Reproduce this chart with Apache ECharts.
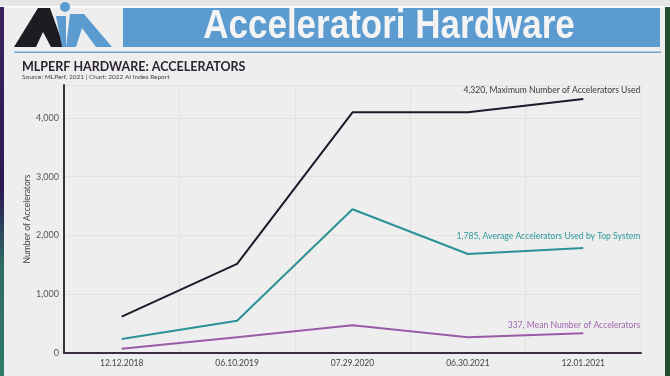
<!DOCTYPE html>
<html>
<head>
<meta charset="utf-8">
<title>MLPerf Hardware: Accelerators</title>
<script src="https://cdn.jsdelivr.net/npm/echarts@6/dist/echarts.min.js"></script>
<style>
  html, body { margin: 0; padding: 0; background: #eeeeee; }
  #main { width: 670px; height: 376px; }
</style>
</head>
<body>
<div id="main"></div>
<script type="text/javascript">
// dates of the MLPerf rounds
var dates = ['12.12.2018', '06.10.2019', '07.29.2020', '06.30.2021', '12.01.2021'];
// values
var maxAccel = [618, 1515, 4096, 4096, 4320];
var avgTopSystem = [238, 550, 2446, 1685, 1785];
var meanAccel = [73, 267, 471, 267, 337];
var yTicks = [0, 1000, 2000, 3000, 4000];

var black = '#21172a', teal = '#2b9196', purple = '#9a5aa6';

// put a label only on the last point of each line
function withEndLabel(arr, text, color, dy) {
    return arr.map(function (v, i) {
        if (i < arr.length - 1) return v;
        return {
            value: v,
            label: {
                show: true, position: 'top', align: 'right', offset: [57, dy], distance: 5,
                formatter: text, color: color, fontSize: 8.6, fontFamily: 'Lato'
            }
        };
    });
}

var myChart = echarts.init(document.getElementById('main'));
var option = {
    backgroundColor: '#eeeeee',
    animation: false,
    title: {
        text: 'MLPERF HARDWARE: ACCELERATORS',
        subtext: 'Source: MLPerf, 2021 | Chart: 2022 AI Index Report',
        left: 17, top: 55, itemGap: 0,
        textStyle: { fontSize: 12.5, fontWeight: 'bold', color: '#2b2330', fontFamily: 'Lato' },
        subtextStyle: { fontSize: 6.5, color: '#444', fontFamily: 'Lato' }
    },
    graphic: [
        // frame of the slide
        { type: 'rect', shape: { x: 0, y: 0, width: 670, height: 6 }, style: { fill: '#e6e6e6' } },
        { type: 'rect', shape: { x: 0, y: 6, width: 670, height: 1.5 }, style: { fill: '#ffffff' } },
        { type: 'rect', shape: { x: 0, y: 7, width: 4, height: 369 },
          style: { fill: new echarts.graphic.LinearGradient(0, 0, 0, 1, [
              { offset: 0, color: '#3d2160' }, { offset: 0.5, color: '#2a1a55' },
              { offset: 0.7, color: '#2f6d63' }, { offset: 1, color: '#2f7a66' }]) } },
        { type: 'rect', shape: { x: 665, y: 7, width: 5, height: 369 }, style: { fill: '#244d30' } },
        // logo
        { type: 'polygon', shape: { points: [[14, 47], [38, 8], [50, 8], [64, 47]] }, style: { fill: '#1b1d22' } },
        { type: 'polygon', shape: { points: [[36, 47], [43, 32], [51, 47]] }, style: { fill: '#eeeeee' } },
        { type: 'polygon', shape: { points: [[56, 16], [66, 16], [66, 47], [62, 47]] }, style: { fill: '#5b9bd0' } },
        { type: 'polygon', shape: { points: [[70, 14], [84, 14], [112, 47], [96, 47], [82, 28], [76, 47], [66, 47]] }, style: { fill: '#5b9bd0' } },
        { type: 'circle', shape: { cx: 65, cy: 7, r: 5 }, style: { fill: '#5b9bd0' } },
        // banner
        { type: 'rect', shape: { x: 123, y: 8, width: 537, height: 39 }, style: { fill: '#5b9bd0' } },
        { type: 'text', x: 389, y: 27, scaleY: 1.18,
          style: { text: 'Acceleratori Hardware', fill: '#f4f4f4', font: 'bold 35px "Liberation Sans"',
                   textAlign: 'center', textVerticalAlign: 'middle' } },
        { type: 'rect', shape: { x: 14, y: 51.5, width: 647, height: 1.5 }, style: { fill: '#6ea7d6' } }
    ],
    grid: { left: 64, right: 29, top: 85, bottom: 23 },
    xAxis: {
        type: 'category',
        data: dates,
        boundaryGap: true,
        axisLine: { lineStyle: { color: '#3b2d40', width: 2 } },
        axisTick: { show: false },
        axisLabel: { color: '#444', fontSize: 8.5, margin: 6, fontFamily: 'Lato' },
        splitLine: { show: true, lineStyle: { color: '#e2e2e2', width: 1 } }
    },
    yAxis: {
        type: 'value',
        min: 0, max: 4560, interval: 1000,
        name: 'Number of Accelerators',
        nameLocation: 'middle', nameGap: 32, nameMoveOverlap: false,
        nameTextStyle: { color: '#444', fontSize: 8.5, fontFamily: 'Lato' },
        axisLine: { show: true, lineStyle: { color: '#3b2d40', width: 2 } },
        axisTick: { show: false },
        axisLabel: {
            color: '#555', fontSize: 9, margin: 5, fontFamily: 'Lato', showMaxLabel: false,
            formatter: function (v) { return yTicks.indexOf(v) >= 0 ? v.toLocaleString('en-US') : ''; }
        },
        splitLine: { lineStyle: { color: '#e2e2e2', width: 1 } }
    },
    series: [
        {
            name: 'Maximum Number of Accelerators Used', type: 'line',
            showSymbol: true, symbol: 'circle', symbolSize: 0.1,
            lineStyle: { color: black, width: 2 }, itemStyle: { color: black },
            data: withEndLabel(maxAccel, '4,320, Maximum Number of Accelerators Used', '#3a3a3a', 1)
        },
        {
            name: 'Average Accelerators Used by Top System', type: 'line',
            showSymbol: true, symbol: 'circle', symbolSize: 0.1,
            lineStyle: { color: teal, width: 2 }, itemStyle: { color: teal },
            data: withEndLabel(avgTopSystem, '1,785, Average Accelerators Used by Top System', '#2e9a9a', -2)
        },
        {
            name: 'Mean Number of Accelerators', type: 'line',
            showSymbol: true, symbol: 'circle', symbolSize: 0.1,
            lineStyle: { color: purple, width: 2 }, itemStyle: { color: purple },
            data: withEndLabel(meanAccel, '337, Mean Number of Accelerators', '#a066b0', 2)
        }
    ]
};
myChart.setOption(option);
</script>
</body>
</html>
